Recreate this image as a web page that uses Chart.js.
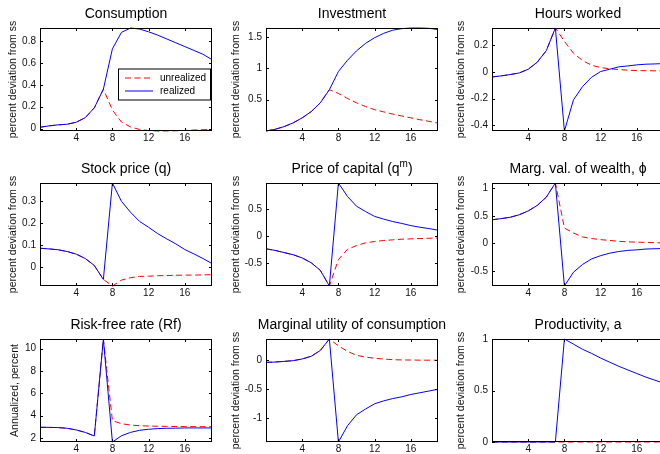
<!DOCTYPE html>
<html>
<head>
<meta charset="utf-8">
<script src="https://cdn.jsdelivr.net/npm/chart.js@4"></script>
<style>
  html, body { margin: 0; padding: 0; overflow: hidden; background: #fff; }
  #fig { position: relative; width: 660px; height: 454px; overflow: hidden; }
  #fig canvas { position: absolute; }
</style>
</head>
<body>
<div id="fig"></div>
<script>
// quarters after the news shock
const periods = [0, 1, 2, 3, 4, 5, 6, 7, 8, 9, 10, 11, 12, 13, 14, 15, 16, 17, 18, 19];
const xTickValues = [4, 8, 12, 16];
const seriesLabels = ['unrealized', 'realized'];

const consRealized   = [0.012, 0.025, 0.034, 0.040, 0.058, 0.100, 0.190, 0.360, 0.730, 0.880, 0.920, 0.910, 0.885, 0.855, 0.820, 0.785, 0.750, 0.715, 0.680, 0.630];
const consUnrealized = [0.012, 0.025, 0.034, 0.040, 0.058, 0.100, 0.190, 0.360, 0.170, 0.060, 0.015, -0.008, -0.018, -0.022, -0.022, -0.020, -0.017, -0.013, -0.010, -0.007];

const invRealized   = [0.000, 0.027, 0.070, 0.130, 0.210, 0.310, 0.450, 0.660, 0.950, 1.130, 1.280, 1.400, 1.490, 1.560, 1.610, 1.635, 1.645, 1.645, 1.640, 1.620];
const invUnrealized = [0.000, 0.027, 0.070, 0.130, 0.210, 0.310, 0.450, 0.660, 0.600, 0.520, 0.450, 0.390, 0.340, 0.305, 0.270, 0.240, 0.210, 0.180, 0.155, 0.125];

const hoursRealized   = [-0.038, -0.030, -0.020, -0.008, 0.020, 0.073, 0.160, 0.330, -0.444, -0.210, -0.110, -0.040, 0.003, 0.020, 0.038, 0.045, 0.053, 0.058, 0.060, 0.063];
const hoursUnrealized = [-0.038, -0.030, -0.020, -0.008, 0.020, 0.073, 0.160, 0.330, 0.230, 0.140, 0.086, 0.050, 0.033, 0.023, 0.018, 0.013, 0.010, 0.009, 0.008, 0.007];

const stockRealized   = [0.085, 0.082, 0.078, 0.070, 0.058, 0.038, 0.006, -0.058, 0.384, 0.300, 0.250, 0.208, 0.181, 0.152, 0.128, 0.105, 0.079, 0.059, 0.038, 0.015];
const stockUnrealized = [0.085, 0.082, 0.078, 0.070, 0.058, 0.038, 0.006, -0.058, -0.088, -0.061, -0.050, -0.044, -0.043, -0.041, -0.040, -0.039, -0.038, -0.038, -0.037, -0.036];

const qmRealized   = [-0.24, -0.27, -0.31, -0.35, -0.41, -0.50, -0.64, -0.93, 0.98, 0.73, 0.55, 0.45, 0.36, 0.31, 0.265, 0.23, 0.19, 0.16, 0.135, 0.105];
const qmUnrealized = [-0.24, -0.27, -0.31, -0.35, -0.41, -0.50, -0.64, -0.93, -0.44, -0.25, -0.18, -0.13, -0.105, -0.086, -0.074, -0.062, -0.056, -0.050, -0.045, -0.040];

const phiRealized   = [0.43, 0.45, 0.475, 0.52, 0.59, 0.69, 0.84, 1.096, -0.77, -0.52, -0.38, -0.28, -0.22, -0.175, -0.145, -0.125, -0.115, -0.10, -0.095, -0.09];
const phiUnrealized = [0.43, 0.45, 0.475, 0.52, 0.59, 0.69, 0.84, 1.096, 0.28, 0.19, 0.12, 0.09, 0.07, 0.055, 0.04, 0.03, 0.025, 0.02, 0.015, 0.01];

const rfRealized   = [2.96, 2.95, 2.93, 2.87, 2.72, 2.50, 2.18, 10.87, 1.64, 2.20, 2.50, 2.69, 2.78, 2.84, 2.87, 2.88, 2.90, 2.90, 2.90, 2.90];
const rfUnrealized = [2.96, 2.95, 2.93, 2.87, 2.72, 2.50, 2.18, 10.87, 3.55, 3.28, 3.16, 3.10, 3.07, 3.05, 3.04, 3.03, 3.02, 3.02, 3.01, 3.01];

const muRealized   = [-0.035, -0.030, -0.018, -0.006, 0.023, 0.070, 0.170, 0.368, -1.410, -1.130, -0.940, -0.840, -0.750, -0.700, -0.660, -0.630, -0.590, -0.560, -0.530, -0.500];
const muUnrealized = [-0.035, -0.030, -0.018, -0.006, 0.023, 0.070, 0.170, 0.368, 0.250, 0.155, 0.086, 0.057, 0.034, 0.023, 0.011, 0.006, 0.005, 0.003, 0.002, 0.001];

const prodRealized   = [0, 0, 0, 0, 0, 0, 0, 0, 1.00, 0.95, 0.90, 0.86, 0.815, 0.775, 0.735, 0.70, 0.665, 0.63, 0.60, 0.57];
const prodUnrealized = [0, 0, 0, 0, 0, 0, 0, 0, 0, 0, 0, 0, 0, 0, 0, 0, 0, 0, 0, 0];

const PCT = 'percent deviation from ss';
const panels = [
  { title: ['Consumption'], ylabel: PCT, yTicks: [0, 0.2, 0.4, 0.6, 0.8], real: consRealized, unreal: consUnrealized, legend: true },
  { title: ['Investment'], ylabel: PCT, yTicks: [0.5, 1, 1.5], real: invRealized, unreal: invUnrealized },
  { title: ['Hours worked'], ylabel: PCT, yTicks: [-0.4, -0.2, 0, 0.2], real: hoursRealized, unreal: hoursUnrealized },
  { title: ['Stock price (q)'], ylabel: PCT, yTicks: [0, 0.1, 0.2, 0.3], real: stockRealized, unreal: stockUnrealized },
  { title: ['Price of capital (q', { sup: 'm' }, ')'], ylabel: PCT, yTicks: [-0.5, 0, 0.5], real: qmRealized, unreal: qmUnrealized },
  { title: ['Marg. val. of wealth, \u03D5'], ylabel: PCT, yTicks: [-0.5, 0, 0.5, 1], real: phiRealized, unreal: phiUnrealized },
  { title: ['Risk-free rate (Rf)'], ylabel: 'Annualized, percent', yTicks: [2, 4, 6, 8, 10], real: rfRealized, unreal: rfUnrealized },
  { title: ['Marginal utility of consumption'], ylabel: PCT, yTicks: [-1, -0.5, 0], real: muRealized, unreal: muUnrealized },
  { title: ['Productivity, a'], ylabel: PCT, yTicks: [0, 0.5, 1], real: prodRealized, unreal: prodUnrealized }
];

const FONT = '"Liberation Sans", Arial, Helvetica, sans-serif';
Chart.defaults.font.family = FONT;
Chart.defaults.color = '#111';

const colLeft = [40, 266, 492];
const rowTop = [28, 183, 339];
const labelGap = [27, 29.5, 31];
const PW = 172, PH = 103, PADL = 40, PADT = 35, PADR = 48, XH = 22;

// matlab-ish axes: box, inward ticks, title over the box, inset legend
const matlabAxes = {
  id: 'matlabAxes',
  afterDatasetsDraw(chart, args, opts) {
    const ctx = chart.ctx, a = chart.chartArea;
    const xs = chart.scales.x, ys = chart.scales.y;
    ctx.save();
    ctx.strokeStyle = '#000';
    ctx.lineWidth = 1;
    ctx.beginPath();
    xs.ticks.forEach(t => {
      const px = Math.round(xs.getPixelForValue(t.value)) + 0.5;
      ctx.moveTo(px, a.bottom); ctx.lineTo(px, a.bottom - 3);
      ctx.moveTo(px, a.top); ctx.lineTo(px, a.top + 3);
    });
    ys.ticks.forEach(t => {
      const py = Math.round(ys.getPixelForValue(t.value)) + 0.5;
      ctx.moveTo(a.left, py); ctx.lineTo(a.left + 3, py);
      ctx.moveTo(a.right, py); ctx.lineTo(a.right - 3, py);
    });
    ctx.stroke();
    ctx.strokeRect(a.left + 0.5, a.top + 0.5, a.width - 1, a.height - 1);

    // title
    const parts = opts.title || [];
    const big = '14px ' + FONT, small = '10px ' + FONT;
    let w = 0;
    parts.forEach(p => {
      ctx.font = typeof p === 'string' ? big : small;
      w += ctx.measureText(typeof p === 'string' ? p : p.sup).width;
    });
    let x = (a.left + a.right) / 2 - w / 2;
    const ty = a.top - 14;
    ctx.fillStyle = '#000';
    ctx.textBaseline = 'middle';
    ctx.textAlign = 'left';
    parts.forEach(p => {
      if (typeof p === 'string') {
        ctx.font = big; ctx.fillText(p, x, ty); x += ctx.measureText(p).width;
      } else {
        ctx.font = small; ctx.fillText(p.sup, x, ty - 5); x += ctx.measureText(p.sup).width;
      }
    });

    if (opts.legend) {
      const bx = a.left + 78, by = a.top + 40.5, bw = 93, bh = 32;
      ctx.fillStyle = '#fff';
      ctx.fillRect(bx, by, bw, bh);
      ctx.strokeStyle = '#000';
      ctx.strokeRect(bx + 0.5, by + 0.5, bw - 1, bh - 1);
      ctx.font = '10px ' + FONT;
      chart.data.datasets.forEach((ds, i) => {
        const ly = by + 9.5 + i * 13;
        ctx.save();
        ctx.strokeStyle = ds.borderColor;
        ctx.lineWidth = ds.borderWidth;
        ctx.setLineDash(ds.borderDash || []);
        ctx.beginPath();
        ctx.moveTo(bx + 7, ly); ctx.lineTo(bx + 35, ly);
        ctx.stroke();
        ctx.restore();
        ctx.fillStyle = '#000';
        ctx.fillText(ds.label, bx + 42, ly);
      });
    }
    ctx.restore();
  }
};

const fig = document.getElementById('fig');
panels.forEach((p, i) => {
  const col = i % 3, row = Math.floor(i / 3);
  const cv = document.createElement('canvas');
  cv.width = PADL + PW + PADR;
  cv.height = PADT + PH + XH;
  cv.style.left = (colLeft[col] - PADL) + 'px';
  cv.style.top = (rowTop[row] - PADT) + 'px';
  fig.appendChild(cv);

  const all = p.real.concat(p.unreal);
  const yMin = Math.min(...all), yMax = Math.max(...all);
  const gap = (i === 6) ? 25 : labelGap[col];

  new Chart(cv, {
    type: 'line',
    data: {
      datasets: [
        { label: seriesLabels[0], data: periods.map((t, k) => ({ x: t, y: p.unreal[k] })),
          borderColor: '#ff0000', borderWidth: 1, borderDash: [6, 3.5], pointRadius: 0, order: 1, clip: 2 },
        { label: seriesLabels[1], data: periods.map((t, k) => ({ x: t, y: p.real[k] })),
          borderColor: '#0000ff', borderWidth: 1, pointRadius: 0, order: 0, clip: 2 }
      ]
    },
    options: {
      responsive: false,
      animation: false,
      events: [],
      layout: { padding: { left: 0, top: PADT, right: PADR, bottom: 0 } },
      elements: { line: { tension: 0 } },
      plugins: {
        legend: { display: false },
        tooltip: { enabled: false },
        matlabAxes: { title: p.title, legend: !!p.legend }
      },
      scales: {
        x: {
          type: 'linear', min: periods[0], max: periods[periods.length - 1],
          afterBuildTicks: s => { s.ticks = xTickValues.map(v => ({ value: v })); },
          afterFit: s => { s.height = XH; },
          grid: { display: false, drawTicks: false },
          border: { display: false },
          ticks: { padding: 1, autoSkip: false, maxRotation: 0, color: '#111', font: { size: 10 } }
        },
        y: {
          type: 'linear', min: yMin, max: yMax,
          afterBuildTicks: s => { s.ticks = p.yTicks.map(v => ({ value: v })); },
          afterFit: s => { s.width = PADL; },
          grid: { display: false, drawTicks: false },
          border: { display: false },
          ticks: { padding: 4, color: '#111', font: { size: 10 }, callback: v => String(v) },
          title: { display: true, text: p.ylabel, color: '#111', font: { size: 10.5 },
                   padding: { top: 33.7 - gap, bottom: 0 } }
        }
      }
    },
    plugins: [matlabAxes]
  });
});
</script>
</body>
</html>
